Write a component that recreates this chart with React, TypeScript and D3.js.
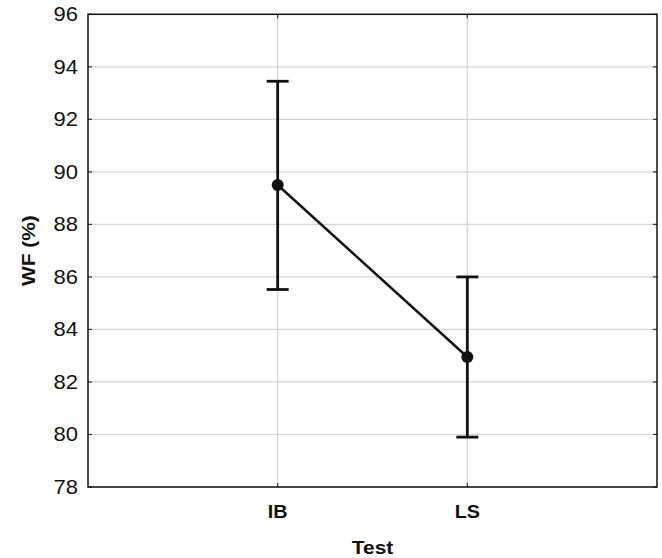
import React from "react";
import * as d3 from "d3";

const categories = ["IB", "LS"];
const means = [89.5, 82.95];
const upper = [93.45, 86.0];
const lower = [85.52, 79.9];
const yTicks = [78, 80, 82, 84, 86, 88, 90, 92, 94, 96];

const W = 662;
const H = 558;
const M = { left: 88, right: 5, top: 14.3, bottom: 71 };

export default function App() {
  const x = d3
    .scalePoint<string>()
    .domain(categories)
    .range([M.left, W - M.right])
    .padding(1);
  const y = d3.scaleLinear().domain([78, 96]).range([H - M.bottom, M.top]);
  const line = d3
    .line<number>()
    .x((_, i) => x(categories[i]) as number)
    .y((d) => y(d));
  const font = "'Liberation Sans', Arial, sans-serif";
  const x0 = M.left;
  const x1 = W - M.right;
  const y0 = H - M.bottom;
  const y1 = M.top;
  const sx = 1.1;
  return (
    <svg
      width={W}
      height={H}
      style={{ position: "absolute", left: 0, top: 0, background: "#fff" }}
      fontFamily={font}
    >
      {yTicks.map((t) => (
        <g key={t}>
          <line x1={x0} x2={x1} y1={y(t)} y2={y(t)} stroke="#d4d4d4" strokeWidth={1.2} />
          <line x1={x0} x2={x0 + 4} y1={y(t)} y2={y(t)} stroke="#333" strokeWidth={1.2} />
          <line x1={x1 - 4} x2={x1} y1={y(t)} y2={y(t)} stroke="#333" strokeWidth={1.2} />
          <text
            transform={`translate(${x0 - 10},${y(t) + 7}) scale(${sx},1)`}
            textAnchor="end"
            fontSize={20}
            fill="#111"
          >
            {t}
          </text>
        </g>
      ))}
      {categories.map((c) => (
        <g key={c}>
          <line x1={x(c)} x2={x(c)} y1={y0} y2={y1} stroke="#d4d4d4" strokeWidth={1.2} />
          <line x1={x(c)} x2={x(c)} y1={y0} y2={y0 - 4} stroke="#333" strokeWidth={1.2} />
          <line x1={x(c)} x2={x(c)} y1={y1} y2={y1 + 4} stroke="#333" strokeWidth={1.2} />
          <text
            transform={`translate(${x(c)},${y0 + 31}) scale(${sx},1)`}
            textAnchor="middle"
            fontSize={18}
            fontWeight="bold"
            fill="#111"
          >
            {c}
          </text>
        </g>
      ))}
      <rect x={x0} y={y1} width={x1 - x0} height={y0 - y1} fill="none" stroke="#111" strokeWidth={1.5} />
      {categories.map((c, i) => (
        <g key={c} stroke="#111" strokeWidth={2.8}>
          <line x1={x(c)} x2={x(c)} y1={y(upper[i])} y2={y(lower[i])} />
          <line x1={(x(c) as number) - 11} x2={(x(c) as number) + 11} y1={y(upper[i])} y2={y(upper[i])} />
          <line x1={(x(c) as number) - 11} x2={(x(c) as number) + 11} y1={y(lower[i])} y2={y(lower[i])} />
        </g>
      ))}
      <path d={line(means) as string} fill="none" stroke="#111" strokeWidth={2.5} />
      {categories.map((c, i) => (
        <circle key={c} cx={x(c)} cy={y(means[i])} r={6} fill="#111" />
      ))}
      <text
        transform={`translate(${(x0 + x1) / 2},554) scale(${sx},1)`}
        textAnchor="middle"
        fontSize={19}
        fontWeight="bold"
        fill="#111"
      >
        Test
      </text>
      <text
        transform={`translate(35,${(y0 + y1) / 2}) rotate(-90) scale(${sx},1)`}
        textAnchor="middle"
        fontSize={19}
        fontWeight="bold"
        fill="#111"
      >
        WF (%)
      </text>
    </svg>
  );
}
